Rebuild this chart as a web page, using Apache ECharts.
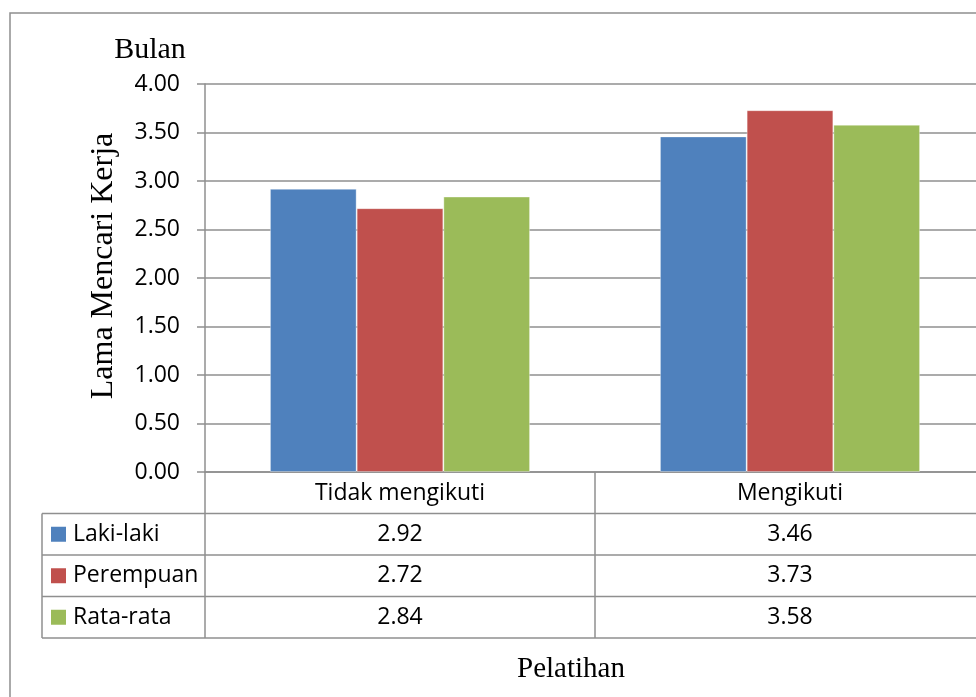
<!DOCTYPE html>
<html>
<head>
<meta charset="utf-8">
<script src="https://cdn.jsdelivr.net/npm/echarts@6/dist/echarts.min.js"></script>
<style>
  html, body { margin: 0; padding: 0; background: #ffffff; overflow: hidden; }
  /* drawing surface is a little wider than the window; the right edge is clipped */
  #chart { width: 990px; height: 697px; }
</style>
</head>
<body>
<div id="chart"></div>
<script>
// Categories and series values
const categories = ['Tidak mengikuti', 'Mengikuti'];
const seriesNames = ['Laki-laki', 'Perempuan', 'Rata-rata'];
const lakiLaki = [2.92, 3.46];
const perempuan = [2.72, 3.73];
const rataRata = [2.84, 3.58];
const seriesColors = ['#4F81BD', '#C0504D', '#9BBB59'];

// Value axis
const yMin = 0, yMax = 4, yStep = 0.5;

const seriesValues = [lakiLaki, perempuan, rataRata];
const sansFont = '"Open Sans", "Noto Sans", sans-serif';
const serifFont = '"Liberation Serif", "Times New Roman", serif';
const lineColor = '#8f8f8f';

const chart = echarts.init(document.getElementById('chart'), null, { renderer: 'canvas' });

const baseOption = {
  animation: false,
  backgroundColor: '#ffffff',
  grid: { left: 205, right: 5, top: 84, height: 388, containLabel: false },
  xAxis: {
    type: 'category',
    data: categories,
    axisLine: { show: true, lineStyle: { color: lineColor, width: 1.5 } },
    axisTick: { show: false },
    axisLabel: {
      margin: 0, lineHeight: 42, fontSize: 23, color: '#000',
      fontFamily: sansFont, interval: 0
    },
    splitLine: { show: false }
  },
  yAxis: {
    type: 'value',
    min: yMin, max: yMax, interval: yStep,
    axisLine: { show: true, lineStyle: { color: lineColor, width: 1.5 } },
    axisTick: { show: true, length: 8, lineStyle: { color: lineColor, width: 1.5 } },
    axisLabel: {
      margin: 25, fontSize: 23, color: '#000', fontFamily: sansFont,
      formatter: v => v.toFixed(2)
    },
    splitLine: { show: true, lineStyle: { color: lineColor, width: 1.5 } }
  },
  series: seriesNames.map((name, i) => ({
    name: name,
    type: 'bar',
    data: seriesValues[i],
    barGap: '0%',
    barCategoryGap: '33.3%',
    itemStyle: { color: seriesColors[i], borderColor: 'rgba(255,255,255,0.35)', borderWidth: 1 }
  }))
};

chart.setOption(baseOption);

// Data table under the plot, aligned to the category axis
const c0 = chart.convertToPixel({ xAxisIndex: 0 }, 0);
const c1 = chart.convertToPixel({ xAxisIndex: 0 }, 1);
const catW = c1 - c0;
const plotLeft = c0 - catW / 2;
const plotRight = c1 + catW / 2;
const axisY = chart.convertToPixel({ yAxisIndex: 0 }, 0);
const rowH = 41.5;
const tableLeft = 42;
const rowTop = i => axisY + rowH * (i + 1);
const tableBottom = rowTop(seriesNames.length);

const graphics = [];
const line = (x1, y1, x2, y2) => ({
  type: 'line', silent: true,
  shape: { x1, y1, x2, y2 },
  style: { stroke: lineColor, lineWidth: 1.5 }
});

// outer chart frame
graphics.push({
  type: 'rect', silent: true,
  shape: { x: 10, y: 13, width: 1000, height: 720 },
  style: { fill: null, stroke: lineColor, lineWidth: 1.5 }
});

// horizontal rules
for (let i = 0; i <= seriesNames.length; i++) {
  graphics.push(line(tableLeft, rowTop(i), plotRight, rowTop(i)));
}
// vertical rules
graphics.push(line(tableLeft, rowTop(0), tableLeft, tableBottom));
graphics.push(line(plotLeft, axisY, plotLeft, tableBottom));
graphics.push(line(c0 + catW / 2, axisY, c0 + catW / 2, tableBottom));
graphics.push(line(plotRight, axisY, plotRight, tableBottom));

// rows: legend key, series name, values
seriesNames.forEach((name, i) => {
  const cy = rowTop(i) + rowH / 2;
  graphics.push({
    type: 'rect', silent: true,
    shape: { x: 51, y: cy - 7.5, width: 15, height: 15 },
    style: { fill: seriesColors[i] }
  });
  graphics.push({
    type: 'text', silent: true,
    style: {
      x: 73, y: cy, text: name, fontSize: 23, fontFamily: sansFont,
      fill: '#000', textAlign: 'left', textVerticalAlign: 'middle'
    }
  });
  seriesValues[i].forEach((v, j) => {
    graphics.push({
      type: 'text', silent: true,
      style: {
        x: chart.convertToPixel({ xAxisIndex: 0 }, j), y: cy,
        text: v.toFixed(2), fontSize: 23, fontFamily: sansFont,
        fill: '#000', textAlign: 'center', textVerticalAlign: 'middle'
      }
    });
  });
});

// axis titles
const serifText = (text, size) => ({
  text: text, fontSize: size, fontFamily: serifFont, fontStyle: 'normal',
  fontWeight: 'normal', fill: '#000', textAlign: 'center', textVerticalAlign: 'middle'
});
graphics.push({
  type: 'text', silent: true,
  style: Object.assign({ x: 150, y: 50 }, serifText('Bulan', 30))
});
graphics.push({
  type: 'text', silent: true,
  x: 104, y: 266, rotation: Math.PI / 2,
  style: Object.assign({ x: 0, y: 0 }, serifText('Lama Mencari Kerja', 32))
});
graphics.push({
  type: 'text', silent: true,
  style: Object.assign({ x: 571, y: 669 }, serifText('Pelatihan', 29))
});

chart.setOption({ graphic: { elements: graphics } });
</script>
</body>
</html>
